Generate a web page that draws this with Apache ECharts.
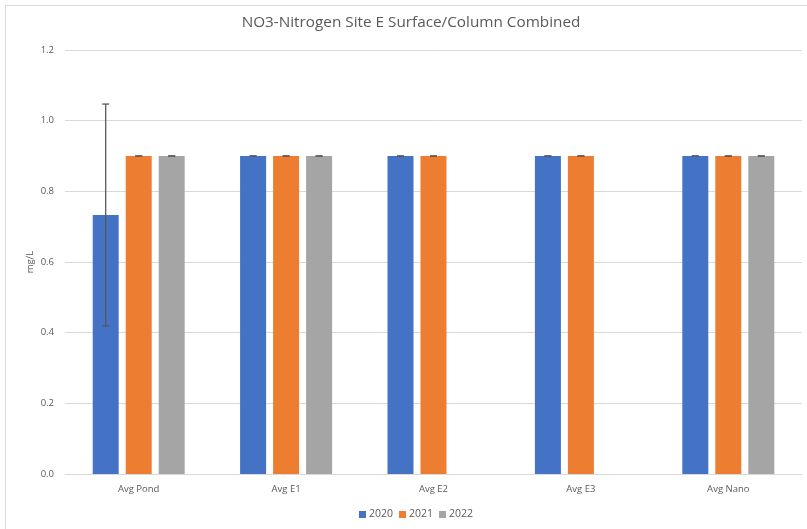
<!DOCTYPE html>
<html>
<head>
<meta charset="utf-8">
<script src="https://cdn.jsdelivr.net/npm/echarts@6/dist/echarts.min.js"></script>
<style>
html,body{margin:0;padding:0;background:#fff;}
#chart{width:807px;height:529px;position:absolute;left:0;top:0;}
#frame{position:absolute;left:5px;top:5px;width:820px;height:540px;border-top:1px solid #d9d9d9;border-left:1px solid #d9d9d9;pointer-events:none;}
</style>
</head>
<body>
<div id="chart"></div>
<div id="frame"></div>
<script>
const categories = ['Avg Pond', 'Avg E1', 'Avg E2', 'Avg E3', 'Avg Nano'];
const seriesNames = ['2020', '2021', '2022'];
const values2020 = [0.733, 0.9, 0.9, 0.9, 0.9];
const values2021 = [0.9, 0.9, 0.9, 0.9, 0.9];
const values2022 = [0.9, 0.9, null, null, 0.9];
const err2020 = [0.314, 0, 0, 0, 0];
const err2021 = [0, 0, 0, 0, 0];
const err2022 = [0, 0, null, null, 0];
const yTicks = [0, 0.2, 0.4, 0.6, 0.8, 1.0, 1.2];
const titleText = 'NO3-Nitrogen Site E Surface/Column Combined';

const colors = ['#4472c4', '#ed7d31', '#a5a5a5'];
const BAR_W = 26, GAP = 7;
const FONT = 'Open Sans';

const allValues = [values2020, values2021, values2022];
const allErr = [err2020, err2021, err2022];

const chart = echarts.init(document.getElementById('chart'), null, {renderer: 'canvas'});

function errSeries(si) {
  const data = [];
  categories.forEach((c, i) => {
    if (allValues[si][i] != null && allErr[si][i] != null) data.push([i, allValues[si][i], allErr[si][i]]);
  });
  return {
    type: 'custom',
    name: seriesNames[si] + ' err',
    silent: true,
    z: 5,
    data: data,
    renderItem: function (params, api) {
      const xi = api.value(0), v = api.value(1), e = api.value(2);
      const off = (si - 1) * (BAR_W + GAP);
      const hi = api.coord([xi, v + e]);
      const lo = api.coord([xi, v - e]);
      const x = hi[0] + off;
      const cap = 3.5;
      const st = {stroke: '#595959', lineWidth: 1.3};
      return {
        type: 'group',
        children: [
          {type: 'line', shape: {x1: x, y1: hi[1], x2: x, y2: lo[1]}, style: st},
          {type: 'line', shape: {x1: x - cap, y1: hi[1], x2: x + cap, y2: hi[1]}, style: st},
          {type: 'line', shape: {x1: x - cap, y1: lo[1], x2: x + cap, y2: lo[1]}, style: st}
        ]
      };
    }
  };
}

const barSeries = seriesNames.map((n, si) => ({
  type: 'bar',
  name: n,
  data: allValues[si],
  barWidth: BAR_W,
  barGap: (GAP / BAR_W * 100).toFixed(1) + '%',
  itemStyle: {color: colors[si]},
  z: 2
}));

chart.setOption({
  animation: false,
  textStyle: {fontFamily: FONT},
  graphic: [{
    type: 'text', x: 411, y: 23,
    style: {text: titleText, x: 0, y: 0, align: 'center', verticalAlign: 'middle',
      fontFamily: FONT, fontSize: 15.3, fill: '#595959'}
  }],
  legend: {
    data: seriesNames,
    left: 354,
    top: 504,
    itemWidth: 7, itemHeight: 7, itemGap: 6,
    icon: 'rect',
    textStyle: {fontFamily: FONT, fontSize: 10.5, color: '#595959', padding: [0,0,0,-2]}
  },
  grid: {left: 65, right: 5, top: 50, bottom: 55, containLabel: false},
  xAxis: {
    type: 'category',
    data: categories,
    axisLine: {lineStyle: {color: '#d9d9d9'}},
    axisTick: {show: false},
    axisLabel: {fontFamily: FONT, fontSize: 9.5, color: '#595959', margin: 10}
  },
  yAxis: {
    type: 'value',
    min: yTicks[0], max: yTicks[yTicks.length - 1], interval: 0.2,
    name: 'mg/L',
    nameLocation: 'middle',
    nameGap: 30,
    nameMoveOverlap: false,
    nameRotate: 90,
    nameTextStyle: {fontFamily: FONT, fontSize: 9.5, color: '#595959'},
    axisLine: {show: false},
    axisTick: {show: false},
    splitLine: {lineStyle: {color: '#d9d9d9', width: 1}},
    axisLabel: {fontFamily: FONT, fontSize: 9.5, color: '#595959', margin: 11,
      formatter: v => v.toFixed(1)}
  },
  series: barSeries.concat([errSeries(0), errSeries(1), errSeries(2)])
});
</script>
</body>
</html>
